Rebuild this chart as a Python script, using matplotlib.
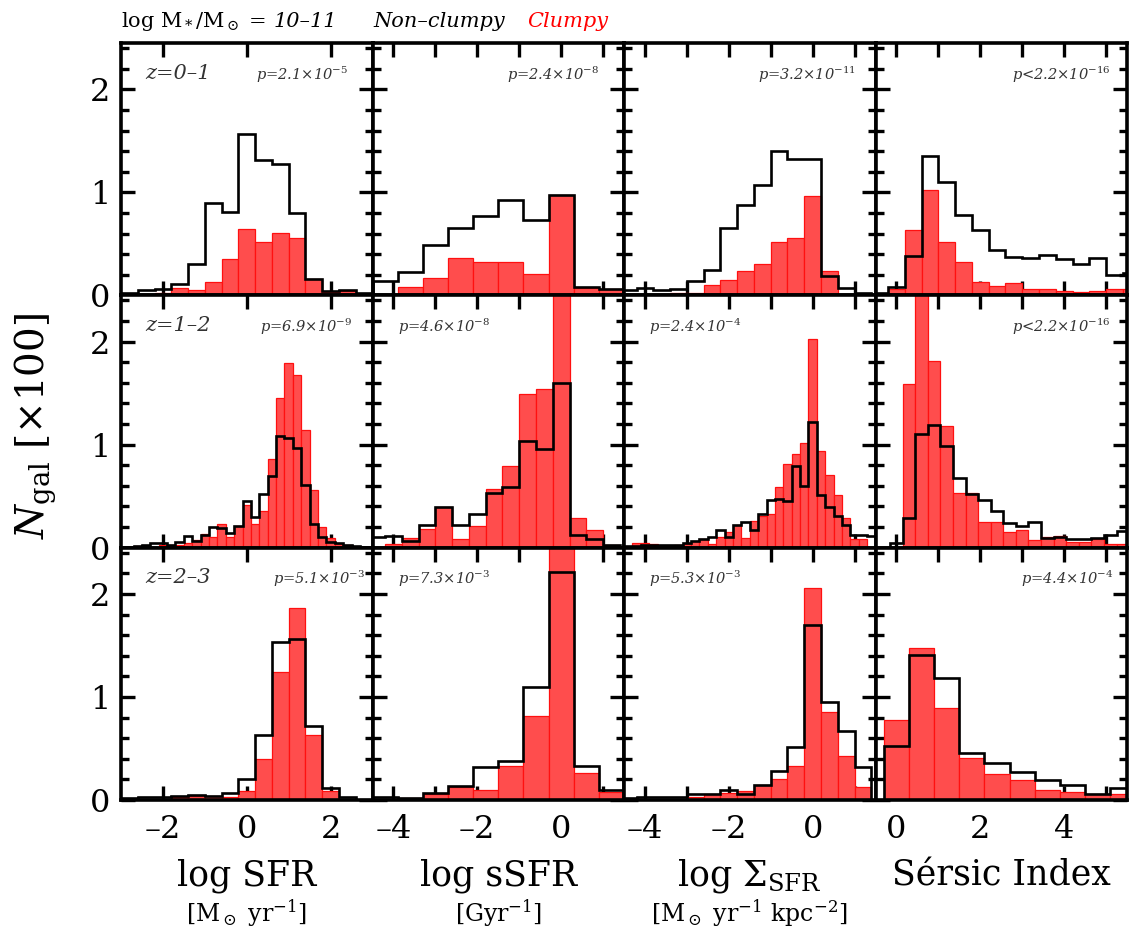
import numpy as np
import matplotlib
matplotlib.use("Agg")
import matplotlib.pyplot as plt
from matplotlib.ticker import MultipleLocator, FuncFormatter

plt.rcParams["font.family"] = ["DejaVu Serif"]
plt.rcParams["mathtext.fontset"] = "dejavuserif"
plt.rcParams["axes.unicode_minus"] = False

# ---- histogram data, N_gal / 100 per bin ----
# bins given as (first edge, bin width)

# z = 0-1
sfr_01_bins = (-3.0, 0.4)
sfr_01_non = [0.025, 0.05, 0.06, 0.11, 0.30, 0.90, 0.81, 1.565, 1.31, 1.28, 0.80, 0.16, 0.04, 0.05, 0.02]
sfr_01_clu = [0, 0, 0.025, 0.07, 0.055, 0.13, 0.35, 0.64, 0.52, 0.61, 0.56, 0.16, 0.03, 0.04, 0]
ssfr_01_bins = (-4.5, 0.6)
ssfr_01_non = [0.14, 0.23, 0.49, 0.65, 0.77, 0.93, 0.73, 0.97, 0.08, 0.06]
ssfr_01_clu = [0, 0.08, 0.17, 0.365, 0.32, 0.32, 0.21, 0.97, 0.07, 0.06]
sig_01_bins = (-4.6, 0.4)
sig_01_non = [0.05, 0.07, 0.055, 0.065, 0.14, 0.245, 0.65, 0.88, 1.07, 1.40, 1.32, 1.32, 0.19, 0.07, 0.025]
sig_01_clu = [0, 0, 0, 0.025, 0.025, 0.10, 0.15, 0.24, 0.30, 0.52, 0.56, 0.96, 0.24, 0, 0]
ser_01_bins = (-0.6, 0.4)
ser_01_non = [0.025, 0.08, 0.38, 1.355, 1.10, 0.78, 0.635, 0.44, 0.37, 0.365, 0.39, 0.35, 0.30, 0.365, 0.20, 0.22]
ser_01_clu = [0, 0.065, 0.635, 1.02, 0.52, 0.32, 0.13, 0.09, 0.12, 0.065, 0.065, 0.04, 0.03, 0.04, 0.065, 0.065]

# z = 1-2
sfr_12_bins = (-3.1, 0.2)
sfr_12_non = [0.01, 0.01, 0.016, 0.03, 0.048, 0.048, 0.03, 0.054, 0.11, 0.063, 0.12, 0.20, 0.19, 0.14, 0.21, 0.45,
              0.30, 0.52, 0.70, 1.08, 1.06, 0.97, 0.61, 0.23, 0.105, 0.057, 0.048, 0.025, 0.016, 0.01, 0.01]
sfr_12_clu = [0, 0, 0.016, 0.016, 0, 0.025, 0.03, 0.025, 0.05, 0.07, 0.135, 0.105, 0.23, 0.10, 0.21, 0.415,
              0.23, 0.36, 0.86, 1.45, 1.79, 1.68, 1.14, 0.56, 0.20, 0.095, 0.04, 0.03, 0, 0, 0]
ssfr_12_bins = (-4.6, 0.4)
ssfr_12_non = [0.105, 0.11, 0.065, 0.22, 0.39, 0.22, 0.33, 0.53, 0.59, 1.04, 0.955, 1.60, 0.12, 0.08, 0.03]
ssfr_12_clu = [0, 0.04, 0.095, 0.185, 0.39, 0.08, 0.21, 0.565, 0.79, 1.49, 1.54, 3.0, 0.285, 0.17, 0.025]
sig_12_bins = (-4.5, 0.2)
sig_12_non = [0.015, 0.02, 0.025, 0.025, 0.025, 0.03, 0.03, 0.05, 0.067, 0.08, 0.10, 0.17, 0.105, 0.22, 0.25,
              0.17, 0.33, 0.46, 0.475, 0.45, 0.79, 0.60, 1.22, 0.51, 0.39, 0.31, 0.22, 0.12, 0.12, 0.115]
sig_12_clu = [0, 0.048, 0.048, 0.035, 0.01, 0.02, 0.025, 0.04, 0.063, 0.083, 0.04, 0.10, 0.15, 0.22, 0.095,
              0.26, 0.31, 0.33, 0.59, 0.81, 0.91, 1.02, 2.03, 0.94, 0.71, 0.51, 0.29, 0.086, 0.086, 0]
ser_12_bins = (-0.15, 0.3)
ser_12_non = [0.05, 0.285, 1.10, 1.19, 0.99, 0.68, 0.52, 0.46, 0.355, 0.24, 0.21, 0.25, 0.095, 0.105,
              0.08, 0.08, 0.095, 0.12, 0.165]
ser_12_clu = [0, 1.59, 2.6, 1.81, 1.18, 0.53, 0.53, 0.245, 0.245, 0.15, 0.175, 0.073, 0.10, 0.11,
              0.054, 0.054, 0.086, 0.04, 0.04]

# z = 2-3
sfr_23_bins = (-3.0, 0.4)
sfr_23_non = [0.02, 0.025, 0.025, 0.035, 0.05, 0.04, 0.065, 0.20, 0.635, 1.53, 1.565, 0.72, 0.12, 0.03, 0]
sfr_23_clu = [0, 0, 0, 0.025, 0.04, 0.04, 0.025, 0.085, 0.40, 1.24, 1.86, 0.635, 0.085, 0, 0]
ssfr_23_bins = (-4.5, 0.6)
ssfr_23_non = [0.025, 0.02, 0.07, 0.14, 0.32, 0.38, 1.10, 2.21, 0.33, 0.095]
ssfr_23_clu = [0, 0.015, 0.054, 0.13, 0.10, 0.33, 0.82, 2.6, 0.26, 0.08]
sig_23_bins = (-4.6, 0.4)
sig_23_non = [0.02, 0.03, 0.03, 0.03, 0.054, 0.063, 0.10, 0.063, 0.15, 0.285, 0.51, 1.70, 0.95, 0.67, 0.32]
sig_23_clu = [0, 0, 0, 0, 0.025, 0.063, 0.07, 0.09, 0.143, 0.205, 0.33, 2.06, 0.85, 0.43, 0.13]
ser_23_bins = (-0.3, 0.6)
ser_23_non = [0.52, 1.41, 1.18, 0.46, 0.355, 0.27, 0.19, 0.15, 0.063, 0.12]
ser_23_clu = [0.78, 1.48, 0.895, 0.41, 0.25, 0.19, 0.10, 0.08, 0.063, 0.063]

z_labels = ["z=0–1", "z=1–2", "z=2–3"]
p_labels = [["p=2.1×10$^{-5}$", "p=2.4×10$^{-8}$", "p=3.2×10$^{-11}$", "p<2.2×10$^{-16}$"],
            ["p=6.9×10$^{-9}$", "p=4.6×10$^{-8}$", "p=2.4×10$^{-4}$", "p<2.2×10$^{-16}$"],
            ["p=5.1×10$^{-3}$", "p=7.3×10$^{-3}$", "p=5.3×10$^{-3}$", "p=4.4×10$^{-4}$"]]
x_names = ["log SFR", "log sSFR", r"log $\Sigma_{\rm SFR}$", "Sérsic Index"]
x_units = [r"[M$_\odot$ yr$^{-1}$]", r"[Gyr$^{-1}$]", r"[M$_\odot$ yr$^{-1}$ kpc$^{-2}$]", ""]

panels = [
    [(sfr_01_bins, sfr_01_non, sfr_01_clu), (ssfr_01_bins, ssfr_01_non, ssfr_01_clu),
     (sig_01_bins, sig_01_non, sig_01_clu), (ser_01_bins, ser_01_non, ser_01_clu)],
    [(sfr_12_bins, sfr_12_non, sfr_12_clu), (ssfr_12_bins, ssfr_12_non, ssfr_12_clu),
     (sig_12_bins, sig_12_non, sig_12_clu), (ser_12_bins, ser_12_non, ser_12_clu)],
    [(sfr_23_bins, sfr_23_non, sfr_23_clu), (ssfr_23_bins, ssfr_23_non, ssfr_23_clu),
     (sig_23_bins, sig_23_non, sig_23_clu), (ser_23_bins, ser_23_non, ser_23_clu)],
]

xlims = [(-3, 3), (-4.5, 1.5), (-4.5, 1.5), (-0.5, 5.5)]
xstep = [2, 1, 1, 1]
# where the p-value sits: (x in axes fraction, alignment)
p_pos = [[(0.905, "right"), (0.90, "right"), (0.92, "right"), (0.935, "right")],
         [(0.92, "right"), (0.10, "left"), (0.10, "left"), (0.935, "right")],
         [(0.97, "right"), (0.10, "left"), (0.10, "left"), (0.945, "right")]]

W, H = 1138, 940
fig = plt.figure(figsize=(W / 100, H / 100), dpi=100)
gs = fig.add_gridspec(3, 4, left=121 / W, right=1127 / W, top=1 - 43 / H, bottom=1 - 800 / H,
                      wspace=0, hspace=0)

def even_label(v, pos):
    k = int(round(v))
    if k % 2:
        return ""
    return ("–%d" % abs(k)) if k < 0 else "%d" % k

for i in range(3):
    for j in range(4):
        ax = fig.add_subplot(gs[i, j])
        (lo, w), non, clu = panels[i][j]
        non = np.array(non)
        clu = np.array(clu)
        edges = lo + w * np.arange(len(non) + 1)
        m = clu > 0
        ax.bar(edges[:-1][m], clu[m], width=w, align="edge", color="#ff4d4d",
               edgecolor="#ff1010", linewidth=0.9, zorder=2)
        ax.stairs(non, edges, color="k", linewidth=1.9, zorder=3)

        ax.set_xlim(*xlims[j])
        ax.set_ylim(0, 2.45)
        ax.xaxis.set_major_locator(MultipleLocator(xstep[j]))
        ax.xaxis.set_major_formatter(FuncFormatter(even_label))
        ax.yaxis.set_major_locator(MultipleLocator(1))
        ax.yaxis.set_minor_locator(MultipleLocator(0.2))
        ax.tick_params(which="both", direction="in", top=True, right=True, width=2.4,
                       labelsize=23, labelbottom=(i == 2), labelleft=(j == 0))
        ax.tick_params(which="major", length=10)
        ax.tick_params(which="minor", length=6)
        ax.tick_params(axis="x", pad=10)
        ax.tick_params(axis="y", pad=8)
        for s in ax.spines.values():
            s.set_linewidth(2.6)

        if j == 0:
            ax.text(0.095, 0.88, z_labels[i], transform=ax.transAxes, fontsize=15,
                    style="italic", color="0.2", va="center", ha="left")
        px, pha = p_pos[i][j]
        ax.text(px, 0.855, p_labels[i][j], transform=ax.transAxes, fontsize=10.5,
                style="italic", color="0.2", va="baseline", ha=pha)

        if i == 2:
            ax.text(0.5, -0.34, x_names[j], transform=ax.transAxes, fontsize=25,
                    ha="center", va="baseline")
            ax.text(0.5, -0.48, x_units[j], transform=ax.transAxes, fontsize=17,
                    ha="center", va="baseline")

fig.text(0.031, 0.547, r"$N_{\rm gal}$ [×100]", rotation=90, fontsize=28,
         ha="center", va="center")

# header line: mass range and legend words
yh = 1 - 27 / H
t0 = fig.text(121 / W, yh, r"log M$_*$/M$_\odot$ =", fontsize=15, va="baseline", ha="left")
fig.canvas.draw()
x_end = t0.get_window_extent().x1
fig.text((x_end + 7) / W, yh, "10–11", fontsize=15, style="italic", va="baseline", ha="left")
fig.text(373 / W, yh, "Non–clumpy", fontsize=15, style="italic", va="baseline", ha="left")
fig.text(527 / W, yh, "Clumpy", fontsize=15, style="italic", color="red",
         va="baseline", ha="left")

fig.savefig("out.png", dpi=100)
